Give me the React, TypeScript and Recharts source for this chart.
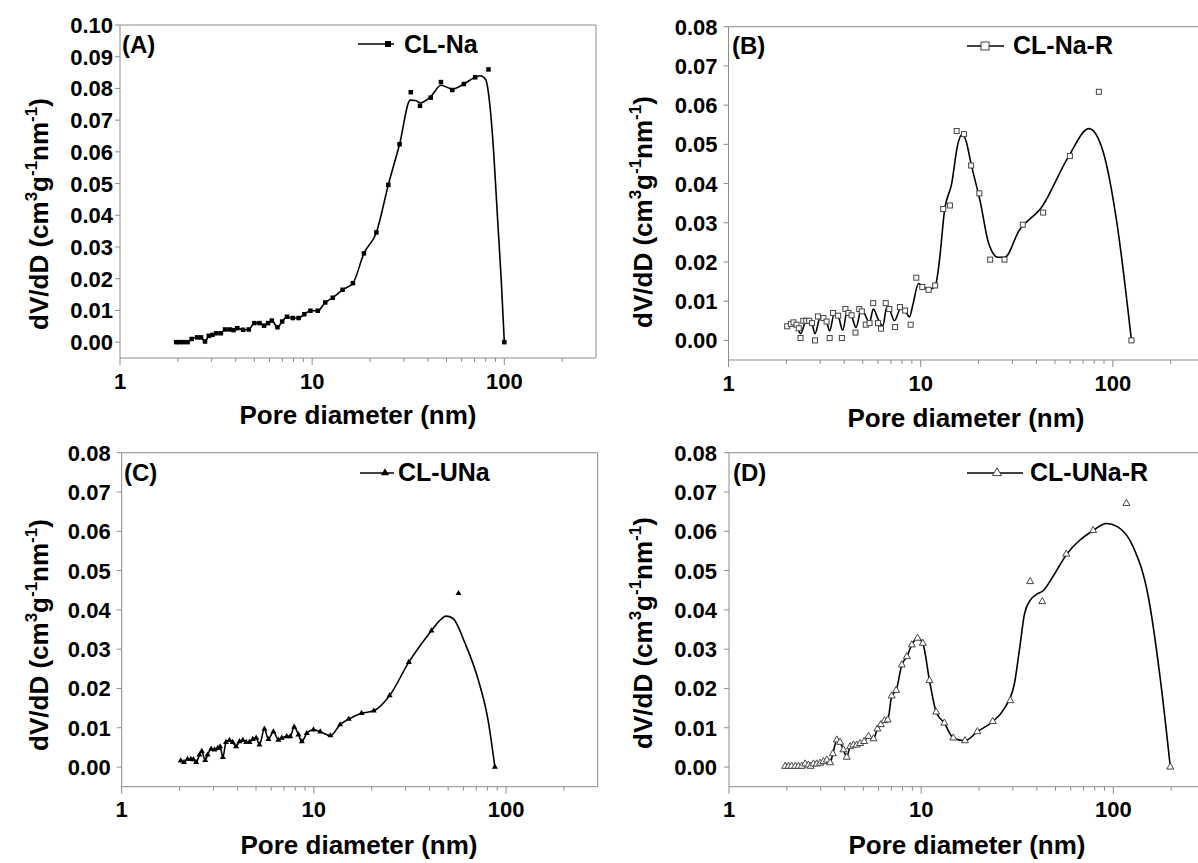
import React from "react";
import { ComposedChart, Line, Scatter, XAxis, YAxis, ReferenceLine } from "recharts";

// pore diameter (nm) and dV/dD (cm3 g-1 nm-1)

// (A) CL-Na
const clNaD = [1.96, 2.04, 2.14, 2.25, 2.36, 2.52, 2.64, 2.77, 2.9, 3.03, 3.17, 3.35, 3.52, 3.72, 3.9, 4.08, 4.37, 4.68, 5.0, 5.32, 5.62, 5.9, 6.17, 6.6, 6.98, 7.4, 7.93, 8.5, 9.1, 9.8, 10.7, 11.7, 12.8, 14.4, 16.3, 18.6, 21.6, 24.9, 28.5, 32.6, 36.4, 41.4, 46.8, 53.6, 61.6, 70.5, 82.7, 100];
const clNaV = [0, 0, 0, 0, 0.001, 0.0015, 0.0015, 0.0002, 0.002, 0.0023, 0.0028, 0.0028, 0.004, 0.004, 0.0038, 0.0044, 0.0039, 0.004, 0.006, 0.006, 0.0052, 0.006, 0.0068, 0.0047, 0.0065, 0.008, 0.0076, 0.0076, 0.0088, 0.0099, 0.0099, 0.0125, 0.014, 0.0165, 0.0186, 0.028, 0.0346, 0.0496, 0.0624, 0.0788, 0.0745, 0.0771, 0.082, 0.0795, 0.0814, 0.0835, 0.086, 0];
// smoothed line above ~30 nm (below that it runs through the points)
const clNaFitD = [32.4, 34.5, 36.5, 41.4, 46.8, 53.6, 61.6, 70.5, 75, 80, 84, 88, 92, 96.5, 100];
const clNaFitV = [0.0763, 0.0762, 0.0754, 0.0774, 0.081, 0.0798, 0.0814, 0.0835, 0.084, 0.0828, 0.075, 0.06, 0.04, 0.019, 0];

// (B) CL-Na-R
const clNaRD = [2.02, 2.11, 2.18, 2.26, 2.32, 2.37, 2.45, 2.54, 2.63, 2.72, 2.82, 2.92, 3.12, 3.24, 3.36, 3.5, 3.72, 3.89, 4.06, 4.21, 4.37, 4.58, 4.79, 4.94, 5.18, 5.42, 5.66, 6.0, 6.22, 6.58, 6.87, 7.36, 7.8, 8.3, 8.87, 9.49, 10.2, 11.0, 11.9, 13.1, 14.2, 15.4, 16.8, 18.3, 20.2, 23.0, 27.3, 34.0, 43.4, 59.8, 84.6, 125];
const clNaRV = [0.0036, 0.0042, 0.0046, 0.004, 0.0031, 0.0006, 0.005, 0.005, 0.005, 0.0044, 0, 0.0061, 0.0057, 0.0048, 0.0006, 0.007, 0.0063, 0.0006, 0.008, 0.007, 0.0064, 0.002, 0.008, 0.0074, 0.004, 0.0044, 0.0095, 0.0044, 0.003, 0.0095, 0.008, 0.0034, 0.0085, 0.0076, 0.004, 0.016, 0.0136, 0.0129, 0.014, 0.0335, 0.0344, 0.0534, 0.0526, 0.0446, 0.0375, 0.0206, 0.0206, 0.0295, 0.0326, 0.047, 0.0634, 0];
const clNaRFitD = [2.02, 2.11, 2.18, 2.26, 2.37, 2.54, 2.63, 2.72, 2.82, 3.0, 3.12, 3.24, 3.36, 3.55, 3.72, 3.93, 4.15, 4.37, 4.61, 4.9, 5.05, 5.42, 5.67, 6.0, 6.36, 6.66, 6.9, 7.3, 7.9, 8.3, 8.75, 9.1, 9.75, 10.4, 11.3, 11.9, 12.5, 13.3, 14.5, 15.6, 16.4, 17.2, 18.3, 20.5, 22.5, 25.2, 27.4, 32.5, 42.7, 59, 75.2, 89.2, 105, 125];
const clNaRFitV = [0.0036, 0.0042, 0.0045, 0.004, 0.0017, 0.005, 0.005, 0.0043, 0.0017, 0.0058, 0.0056, 0.0048, 0.0024, 0.0068, 0.0062, 0.0026, 0.0075, 0.0063, 0.0033, 0.0078, 0.0072, 0.0046, 0.008, 0.0055, 0.0037, 0.0085, 0.0078, 0.005, 0.0083, 0.0075, 0.006, 0.009, 0.0145, 0.0135, 0.0131, 0.0138, 0.02, 0.033, 0.04, 0.05, 0.0525, 0.051, 0.045, 0.035, 0.025, 0.0212, 0.0212, 0.028, 0.034, 0.047, 0.054, 0.048, 0.03, 0];

// (C) CL-UNa
const clUNaD = [2.03, 2.11, 2.2, 2.29, 2.36, 2.44, 2.54, 2.61, 2.72, 2.8, 2.92, 3.04, 3.16, 3.25, 3.36, 3.49, 3.64, 3.78, 3.94, 4.1, 4.27, 4.44, 4.62, 4.81, 5.01, 5.21, 5.53, 5.8, 6.16, 6.54, 6.81, 7.23, 7.53, 7.9, 8.32, 8.66, 9.19, 9.96, 10.8, 12.2, 13.7, 15.2, 17.7, 20.5, 24.8, 31.2, 40.9, 56.6, 87.5];
const clUNaV = [0.0016, 0.0012, 0.002, 0.002, 0.0019, 0.0012, 0.0031, 0.004, 0.0017, 0.0031, 0.0046, 0.0044, 0.0048, 0.0052, 0.0025, 0.0063, 0.0068, 0.0063, 0.0052, 0.0065, 0.0068, 0.0063, 0.0063, 0.0071, 0.0074, 0.0057, 0.0097, 0.0071, 0.009, 0.0069, 0.0074, 0.0078, 0.0078, 0.0102, 0.0082, 0.0065, 0.0086, 0.0095, 0.009, 0.008, 0.0108, 0.0122, 0.0137, 0.0143, 0.0182, 0.0267, 0.0347, 0.0442, 0];
const clUNaFitD = [45, 48.7, 53, 61.2, 71.9, 80.6, 87.5];
const clUNaFitV = [0.0372, 0.0384, 0.0378, 0.0315, 0.022, 0.012, 0];

// (D) CL-UNa-R
const clUNaRD = [1.96, 2.04, 2.12, 2.21, 2.3, 2.39, 2.49, 2.59, 2.66, 2.75, 2.86, 2.98, 3.1, 3.23, 3.36, 3.47, 3.64, 3.78, 3.94, 4.1, 4.27, 4.44, 4.62, 4.81, 5.05, 5.32, 5.65, 5.92, 6.17, 6.45, 6.7, 7.03, 7.41, 7.93, 8.42, 8.94, 9.57, 10.2, 11.05, 11.97, 13.2, 14.7, 16.9, 19.6, 23.6, 29.1, 36.9, 42.7, 56.9, 78.5, 117, 198];
const clUNaRV = [0.0002, 0.0002, 0.0002, 0.0002, 0.0002, 0.0002, 0.0008, 0.0005, 0.0002, 0.0008, 0.0008, 0.001, 0.0014, 0.0018, 0.0011, 0.0034, 0.0069, 0.0063, 0.0044, 0.0025, 0.0052, 0.0056, 0.0056, 0.006, 0.0065, 0.0078, 0.0072, 0.0097, 0.0108, 0.0118, 0.012, 0.0181, 0.0195, 0.026, 0.0281, 0.0311, 0.0328, 0.0315, 0.022, 0.014, 0.0112, 0.0074, 0.0067, 0.009, 0.0116, 0.0169, 0.0472, 0.0421, 0.0542, 0.0602, 0.0671, 0];
const clUNaRFitD = [27, 30.5, 32.5, 34.5, 37, 40, 43, 48.5, 56.9, 78.5, 92, 105, 127, 152, 175, 198];
const clUNaRFitV = [0.0148, 0.021, 0.03, 0.039, 0.0425, 0.044, 0.0448, 0.0485, 0.054, 0.0602, 0.062, 0.0612, 0.056, 0.0434, 0.023, 0];

const xTicks = [1, 2, 3, 4, 5, 6, 7, 8, 9, 10, 20, 30, 40, 50, 60, 70, 80, 90, 100, 200];
const xMajor = [1, 10, 100];
const yTicks10 = [0, 0.01, 0.02, 0.03, 0.04, 0.05, 0.06, 0.07, 0.08, 0.09, 0.1];
const yTicks8 = [0, 0.01, 0.02, 0.03, 0.04, 0.05, 0.06, 0.07, 0.08];

type Pt = { x: number; y: number };
const zip = (d: number[], v: number[]): Pt[] => d.map((x, i) => ({ x, y: v[i] }));

const AXIS = "#8c8c8c";
const FONT = "'Liberation Sans', Arial, sans-serif";
const tickFont = { fontFamily: FONT, fontWeight: 700, fontSize: 22, fill: "#000" };

type Kind = "sq" | "osq" | "tri" | "otri";

const Marker = ({ kind, cx, cy, s }: { kind: Kind; cx: number; cy: number; s: number }) => {
  if (kind === "sq" || kind === "osq") {
    const open = kind === "osq";
    return (
      <rect x={cx - s / 2} y={cy - s / 2} width={s} height={s}
        fill={open ? "#fff" : "#000"} stroke={open ? "#444" : "none"} strokeWidth={1} />
    );
  }
  const h = s * 0.87;
  const open = kind === "otri";
  const pts = `${cx},${cy - (h * 2) / 3} ${cx - s / 2},${cy + h / 3} ${cx + s / 2},${cy + h / 3}`;
  return <polygon points={pts} fill={open ? "#fff" : "#000"} stroke={open ? "#444" : "none"} strokeWidth={1} />;
};

const XTick = (props: any) => {
  const { x, y, payload } = props;
  const major = xMajor.includes(payload.value);
  return (
    <g>
      <line x1={x} y1={y} x2={x} y2={y + (major ? 7 : 4)} stroke={AXIS} strokeWidth={1} />
      {major && (
        <text x={x} y={y + 30.5} textAnchor="middle" style={tickFont}>{payload.value}</text>
      )}
    </g>
  );
};

const makeYTick = (gap: number) => (props: any) => {
  const { x, y, payload } = props;
  return (
    <g>
      <line x1={x - 5} y1={y} x2={x} y2={y} stroke={AXIS} strokeWidth={1} />
      <text x={x - gap} y={y + 8} textAnchor="end" style={tickFont}>{payload.value.toFixed(2)}</text>
    </g>
  );
};

type PanelProps = {
  left: number; top: number; width: number; height: number;
  margin: { top: number; right: number; bottom: number; left: number };
  yMax: number; yTicks: number[]; tickGap: number;
  points: Pt[]; fit: Pt[]; kind: Kind; size: number; legendSize: number;
  tag: string; name: string;
  tagX: number; labelY: number;
  legX1: number; legX2: number; legMx: number; legTextX: number; legY: number;
  yTitleX: number; yTitleY: number; xTitleX: number; xTitleY: number;
};

const Panel = (p: PanelProps) => (
  <div style={{ position: "absolute", left: p.left, top: p.top }}>
    <ComposedChart width={p.width} height={p.height} margin={p.margin}>
      <XAxis dataKey="x" type="number" scale="log" domain={[1, 300]} allowDataOverflow
        ticks={xTicks} interval={0} tick={<XTick />} tickLine={false} tickSize={0} tickMargin={0}
        axisLine={{ stroke: AXIS }} height={30} />
      <YAxis dataKey="y" type="number" domain={[-0.005, p.yMax]} allowDataOverflow
        ticks={p.yTicks} interval={0} tick={makeYTick(p.tickGap)} tickLine={false} tickSize={0} tickMargin={0}
        axisLine={{ stroke: AXIS }} width={60} />
      <ReferenceLine y={p.yMax} stroke={AXIS} />
      <ReferenceLine x={300} stroke={AXIS} />
      <Line data={p.fit} dataKey="y" type="monotone" stroke="#000" strokeWidth={1.6}
        dot={false} activeDot={false} isAnimationActive={false} />
      <Scatter data={p.points} isAnimationActive={false}
        shape={(s: any) => <Marker kind={p.kind} cx={s.cx} cy={s.cy} s={p.size} />} />
      <g style={{ fontFamily: FONT, fontWeight: 700 }}>
        <text x={p.tagX} y={p.labelY} fontSize={24} fill="#000">{p.tag}</text>
        <line x1={p.legX1} y1={p.legY} x2={p.legX2} y2={p.legY} stroke="#000" strokeWidth={1.6} />
        <Marker kind={p.kind} cx={p.legMx} cy={p.legY} s={p.legendSize} />
        <text x={p.legTextX} y={p.labelY} fontSize={25} fill="#000">{p.name}</text>
        <text x={p.xTitleX} y={p.xTitleY} textAnchor="middle" fontSize={26} fill="#000">Pore diameter (nm)</text>
        <text transform={`translate(${p.yTitleX},${p.yTitleY}) rotate(-90)`} textAnchor="middle" fontSize={26} fill="#000">
          dV/dD (cm<tspan fontSize={17} dy={-11}>3</tspan>
          <tspan dy={11}>g</tspan><tspan fontSize={17} dy={-11}>-1</tspan>
          <tspan dy={11}>nm</tspan><tspan fontSize={17} dy={-11}>-1</tspan>
          <tspan dy={11}>)</tspan>
        </text>
      </g>
    </ComposedChart>
  </div>
);

export default function App() {
  const pA = zip(clNaD, clNaV);
  const fitA = [...pA.slice(0, 39), ...zip(clNaFitD, clNaFitV)];
  const pB = zip(clNaRD, clNaRV);
  const fitB = zip(clNaRFitD, clNaRFitV);
  const pC = zip(clUNaD, clUNaV);
  const fitC = [...pC.slice(0, 47), ...zip(clUNaFitD, clUNaFitV)];
  const pD = zip(clUNaRD, clUNaRV);
  const fitD = [...pD.slice(0, 45), ...zip(clUNaRFitD, clUNaRFitV)];

  return (
    <div style={{ position: "absolute", left: 0, top: 0, width: 1198, height: 863, overflow: "hidden", background: "#fff" }}>
      <Panel left={0} top={0} width={600} height={440}
        margin={{ top: 25, right: 4, bottom: 52, left: 60 }}
        yMax={0.1} yTicks={yTicks10} tickGap={7}
        points={pA} fit={fitA} kind="sq" size={4.5} legendSize={6}
        tag="(A)" name="CL-Na" tagX={122} labelY={53}
        legX1={358} legX2={394} legMx={388} legTextX={404} legY={44}
        yTitleX={48} yTitleY={214} xTitleX={358} xTitleY={424} />
      <Panel left={598} top={0} width={612} height={440}
        margin={{ top: 26.7, right: 5.5, bottom: 50, left: 70.5 }}
        yMax={0.08} yTicks={yTicks8} tickGap={11}
        points={pB} fit={fitB} kind="osq" size={5} legendSize={8}
        tag="(B)" name="CL-Na-R" tagX={134} labelY={54}
        legX1={369} legX2={406} legMx={387} legTextX={415} legY={46}
        yTitleX={53.5} yTitleY={212} xTitleX={368} xTitleY={427} />
      <Panel left={0} top={430} width={600} height={433}
        margin={{ top: 22.7, right: 2.3, bottom: 46.3, left: 61.7 }}
        yMax={0.08} yTicks={yTicks8} tickGap={11}
        points={pC} fit={fitC} kind="tri" size={6} legendSize={8}
        tag="(C)" name="CL-UNa" tagX={124} labelY={51}
        legX1={360} legX2={394} legMx={385} legTextX={398} legY={43}
        yTitleX={48} yTitleY={205} xTitleX={359} xTitleY={424} />
      <Panel left={598} top={430} width={612} height={433}
        margin={{ top: 22.7, right: 5, bottom: 46.3, left: 71 }}
        yMax={0.08} yTicks={yTicks8} tickGap={12}
        points={pD} fit={fitD} kind="otri" size={7} legendSize={9}
        tag="(D)" name="CL-UNa-R" tagX={135} labelY={51}
        legX1={369} legX2={425} legMx={399} legTextX={432} legY={43}
        yTitleX={53.5} yTitleY={203} xTitleX={369} xTitleY={424} />
    </div>
  );
}
